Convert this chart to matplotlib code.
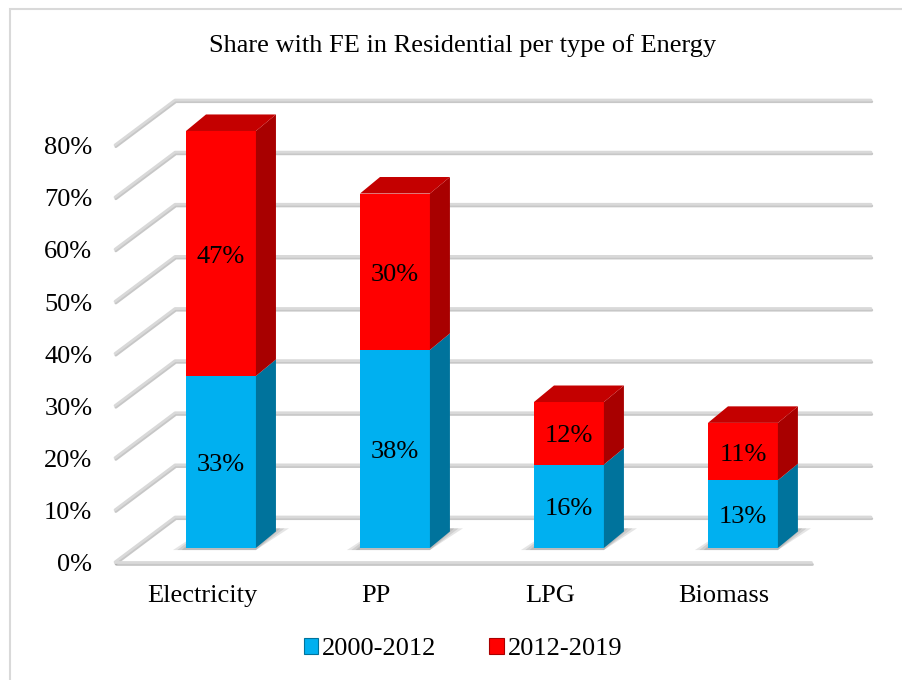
import matplotlib.pyplot as plt
from matplotlib.patches import Polygon, Patch, Rectangle
import matplotlib.patheffects as pe

categories = ['Electricity', 'PP', 'LPG', 'Biomass']
share_2000_2012 = [33, 38, 16, 13]
share_2012_2019 = [47, 30, 12, 11]
series_names = ['2000-2012', '2012-2019']
yticks = [0, 10, 20, 30, 40, 50, 60, 70, 80]

plt.rcParams['font.family'] = ['Liberation Serif', 'DejaVu Serif']

fig = plt.figure(figsize=(9.03, 6.80), dpi=100)
ax = fig.add_axes([0, 0, 1, 1])
ax.set_xlim(-1.161, 4.029)
ax.set_ylim(-22.64, 107.82)
ax.axis('off')

# oblique "3d" geometry, in data units (categories / percent)
wall_dx, wall_dy = 0.345, 8.63
bar_off_x, bar_off_y = 0.109, 2.69
bar_dx, bar_dy = 0.115, 3.17
bar_w = 0.402
x0, x1 = -0.5, len(categories) - 0.5
txt_dy = -0.6  # small nudge so text centres sit like the original

blue_front, blue_side, blue_top = '#00b0f0', '#00739c', '#0090c8'
red_front, red_side, red_top = '#ff0000', '#a80000', '#c40000'

# chart border (only top/left visible in the original)
fig.add_artist(Rectangle((10 / 903, -0.1), 1.2, 1 - 9 / 680 + 0.1,
                         transform=fig.transFigure, fill=False,
                         edgecolor='#d9d9d9', lw=1.5))

grid_fx = [pe.SimpleLineShadow(offset=(0.6, -1.2), shadow_color='#909090', alpha=0.5),
           pe.Normal()]
for v in yticks:
    ax.plot([x0, x0 + wall_dx, x1 + wall_dx], [v, v + wall_dy, v + wall_dy],
            color='#d9d9d9', lw=2.0, solid_capstyle='round', zorder=1,
            path_effects=grid_fx)
    ax.text(x0 - 0.13, v + txt_dy, f'{v}%', ha='right', va='center', fontsize=19)
ax.plot([x0, x1], [0, 0], color='#d9d9d9', lw=2.0, solid_capstyle='round',
        zorder=1, path_effects=grid_fx)


def box(xl, y0, y1, front, side, top, draw_top):
    xr = xl + bar_w
    ax.add_patch(Polygon([(xl, y0), (xr, y0), (xr, y1), (xl, y1)],
                         closed=True, facecolor=front, edgecolor='none', zorder=4))
    ax.add_patch(Polygon([(xr, y0), (xr + bar_dx, y0 + bar_dy),
                          (xr + bar_dx, y1 + bar_dy), (xr, y1)],
                         closed=True, facecolor=side, edgecolor='none', zorder=4))
    if draw_top:
        ax.add_patch(Polygon([(xl, y1), (xr, y1), (xr + bar_dx, y1 + bar_dy),
                              (xl + bar_dx, y1 + bar_dy)],
                             closed=True, facecolor=top, edgecolor='none', zorder=4))


for i, cat in enumerate(categories):
    a = share_2000_2012[i]
    b = share_2012_2019[i]
    xl = i + bar_off_x - bar_w / 2
    yb = bar_off_y
    # soft floor shadow around the bar footprint
    for g in [0.075, 0.05, 0.025]:
        ax.add_patch(Polygon([(xl - g, yb - 0.4), (xl + bar_w, yb - 0.4),
                              (xl + bar_w + bar_dx + g, yb + bar_dy + 0.6),
                              (xl + bar_dx, yb + bar_dy + 0.6)],
                             closed=True, facecolor='#303030', alpha=0.12,
                             edgecolor='none', zorder=3))
    box(xl, yb, yb + a, blue_front, blue_side, blue_top, False)
    box(xl, yb + a, yb + a + b, red_front, red_side, red_top, True)
    cx = xl + bar_w / 2
    ax.text(cx, yb + a / 2 + txt_dy, f'{a}%', ha='center', va='center',
            fontsize=19, zorder=5)
    ax.text(cx, yb + a + b / 2 + txt_dy, f'{b}%', ha='center', va='center',
            fontsize=19, zorder=5)
    ax.text(i, -6.0 + txt_dy, cat, ha='center', va='center', fontsize=19)

ax.text(0.5128, 1 - 46 / 680, 'Share with FE in Residential per type of Energy',
        transform=fig.transFigure, ha='center', va='center', fontsize=19)

handles = [Patch(facecolor=blue_front, edgecolor=blue_side, lw=0.8),
           Patch(facecolor=red_front, edgecolor=red_side, lw=0.8)]
ax.legend(handles, series_names, loc='center',
          bbox_to_anchor=(463 / 903, 1 - 649 / 680), bbox_transform=fig.transFigure,
          ncol=2, frameon=False, fontsize=19, handlelength=0.55, handleheight=0.55,
          handletextpad=0.15, columnspacing=2.0, borderpad=0)

fig.savefig('out.png', dpi=100)
